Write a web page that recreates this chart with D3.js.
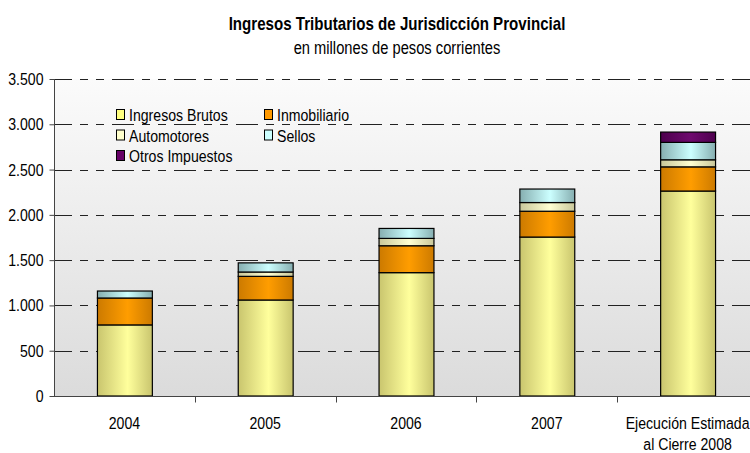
<!DOCTYPE html>
<html>
<head>
<meta charset="utf-8" />
<title>Ingresos Tributarios de Jurisdicción Provincial</title>
<style>
body { margin: 0; background: #fff; }
svg { display: block; font-family: "Liberation Sans", Arial, sans-serif; }
</style>
</head>
<body>
<div id="chart"></div>
<script src="https://d3js.org/d3.v7.min.js"></script>
<script>

// datos (millones de pesos corrientes)
const categories = ["2004", "2005", "2006", "2007", "2008e"];
const categoryLabels = [["2004"], ["2005"], ["2006"], ["2007"], ["Ejecución Estimada", "al Cierre 2008"]];
const seriesNames = ["Ingresos Brutos", "Inmobiliario", "Automotores", "Sellos", "Otros Impuestos"];
const ingresosBrutos = [785, 1060, 1362, 1755, 2263];
const inmobiliario   = [297, 261, 297, 285, 267];
const automotores    = [0, 48, 81, 96, 78];
const sellos         = [77, 101, 110, 149, 192];
const otrosImpuestos = [0, 0, 0, 0, 114];
const yTicks = [0, 500, 1000, 1500, 2000, 2500, 3000, 3500];

const seriesKeys = ["ib", "inmob", "auto", "sellos", "otros"];
const colors = {
    ib:     { edge: "#c9c56e", mid: "#ffff9c", legend: "#ffff80" },
    inmob:  { edge: "#cc7a00", mid: "#ff9d00", legend: "#ff9900" },
    auto:   { edge: "#c9c79a", mid: "#ffffd2", legend: "#ffffcc" },
    sellos: { edge: "#86aeb0", mid: "#ccffff", legend: "#ccffff" },
    otros:  { edge: "#4d004d", mid: "#6e0a6e", legend: "#660066" }
};

const rows = categories.map((c, i) => ({
    cat: c,
    ib: ingresosBrutos[i],
    inmob: inmobiliario[i],
    auto: automotores[i],
    sellos: sellos[i],
    otros: otrosImpuestos[i]
}));

const width = 750, height = 453;
const margin = { left: 54, right: -8, top: 79, bottom: 57 };
const squeeze = 0.83;   // imita Arial Narrow

// texto angosto: escala horizontal alrededor del punto de anclaje
function narrowText(parent, x, y, k) {
    return parent.append("g")
        .attr("transform", "translate(" + x + "," + y + ") scale(" + (k || squeeze) + ",1)")
        .append("text");
}

const svg = d3.select("#chart").append("svg")
    .attr("width", width)
    .attr("height", height);

const defs = svg.append("defs");

const bg = defs.append("linearGradient")
    .attr("id", "bg").attr("x1", 0).attr("y1", 0).attr("x2", 0).attr("y2", 1);
bg.append("stop").attr("offset", "0%").attr("stop-color", "#fbfbfb");
bg.append("stop").attr("offset", "100%").attr("stop-color", "#dbdbdb");

seriesKeys.forEach(k => {
    const g = defs.append("linearGradient")
        .attr("id", "g-" + k).attr("x1", 0).attr("y1", 0).attr("x2", 1).attr("y2", 0);
    g.append("stop").attr("offset", "0%").attr("stop-color", colors[k].edge);
    g.append("stop").attr("offset", "55%").attr("stop-color", colors[k].mid);
    g.append("stop").attr("offset", "100%").attr("stop-color", colors[k].edge);
});

const x = d3.scaleBand()
    .domain(categories)
    .range([margin.left, width - margin.right])
    .paddingInner(0.61)
    .paddingOuter(0.305);

const y = d3.scaleLinear()
    .domain([0, 3500])
    .range([height - margin.bottom, margin.top]);

// fondo del area de trazado
svg.append("rect")
    .attr("x", margin.left)
    .attr("y", y(3500))
    .attr("width", width - margin.left)
    .attr("height", y(0) - y(3500))
    .attr("fill", "url(#bg)");

// grilla
svg.append("g")
    .selectAll("line")
    .data(yTicks.filter(d => d > 0))
    .enter().append("line")
    .attr("x1", margin.left)
    .attr("x2", width)
    .attr("y1", d => Math.round(y(d)) + 0.5)
    .attr("y2", d => Math.round(y(d)) + 0.5)
    .attr("stroke", "#222")
    .attr("stroke-width", 1)
    .attr("stroke-dasharray", "22,8,8,8,8,8")
    .attr("stroke-dashoffset", 4);

// barras apiladas
const stack = d3.stack().keys(seriesKeys)(rows);

svg.append("g")
    .selectAll("g")
    .data(stack)
    .enter().append("g")
    .attr("fill", d => "url(#g-" + d.key + ")")
    .selectAll("rect")
    .data(d => d.filter(s => s[1] - s[0] > 0))
    .enter().append("rect")
    .attr("x", d => x(d.data.cat) + 0.5)
    .attr("y", d => y(d[1]))
    .attr("width", x.bandwidth())
    .attr("height", d => y(d[0]) - y(d[1]))
    .attr("stroke", "#000")
    .attr("stroke-width", 1.2);

// eje Y
const yAxis = svg.append("g")
    .attr("transform", "translate(" + (margin.left + 0.5) + ",0)")
    .call(d3.axisLeft(y).tickValues(yTicks).tickSize(5).tickPadding(5)
        .tickFormat(d => d3.format(",")(d).replace(",", ".")));
yAxis.select(".domain").attr("stroke", "#444").attr("d", "M0," + y(3500) + "V" + y(0));
yAxis.selectAll(".tick line").attr("stroke", "#444");
yAxis.selectAll("text")
    .attr("font-size", 17).attr("fill", "#000")
    .attr("font-family", "'Liberation Sans', Arial, sans-serif")
    .attr("x", -11 / squeeze)
    .attr("transform", "scale(" + squeeze + ",1)");

// eje X
const xAxis = svg.append("g")
    .attr("transform", "translate(0," + (Math.round(y(0)) + 0.5) + ")");
xAxis.append("line")
    .attr("x1", margin.left).attr("x2", width)
    .attr("stroke", "#444");
xAxis.selectAll(".sep")
    .data(categories.slice(1))
    .enter().append("line")
    .attr("class", "sep")
    .attr("x1", d => Math.round(x(d) - x.step() * x.paddingInner() / 2) + 0.5)
    .attr("x2", d => Math.round(x(d) - x.step() * x.paddingInner() / 2) + 0.5)
    .attr("y1", 0).attr("y2", 6)
    .attr("stroke", "#444");

categories.forEach((c, i) => {
    const t = narrowText(xAxis, x(c) + x.bandwidth() / 2, 0)
        .attr("text-anchor", "middle")
        .attr("font-size", 17)
        .attr("fill", "#000");
    t.selectAll("tspan")
        .data(categoryLabels[i])
        .enter().append("tspan")
        .attr("x", 0)
        .attr("y", (d, j) => 33 + j * 21)
        .text(d => d);
});

// titulo
narrowText(svg, 397, 30, 0.84)
    .attr("text-anchor", "middle")
    .attr("font-size", 18).attr("font-weight", "bold")
    .text("Ingresos Tributarios de Jurisdicción Provincial");
narrowText(svg, 397, 54, 0.84)
    .attr("text-anchor", "middle")
    .attr("font-size", 17.5)
    .text("en millones de pesos corrientes");

// leyenda
const legendPos = [[116, 0], [264, 0], [116, 1], [264, 1], [116, 2]];
const legend = svg.append("g")
    .selectAll("g")
    .data(seriesKeys)
    .enter().append("g")
    .attr("transform", (d, i) => "translate(" + legendPos[i][0] + "," + (109 + legendPos[i][1] * 20.5) + ")");
legend.append("rect")
    .attr("x", 0.5).attr("y", 0.5)
    .attr("width", 8).attr("height", 10)
    .attr("fill", d => colors[d].legend)
    .attr("stroke", "#000");
legend.each(function(d, i) {
    narrowText(d3.select(this), 13, 12)
        .attr("font-size", 17)
        .text(seriesNames[i]);
});

</script>
</body>
</html>
